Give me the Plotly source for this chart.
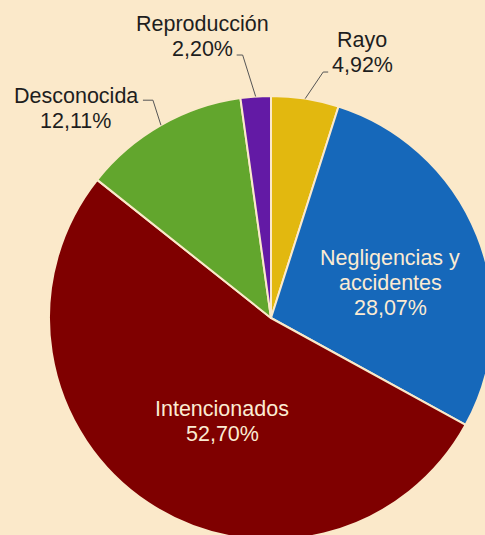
import math
import plotly.graph_objects as go

# ---- data ----
categories = ["Rayo", "Negligencias y accidentes", "Intencionados", "Desconocida", "Reproducción"]
label_lines = [["Rayo"], ["Negligencias y", "accidentes"], ["Intencionados"], ["Desconocida"], ["Reproducción"]]
values = [4.92, 28.07, 52.70, 12.11, 2.20]
pct_text = ["4,92%", "28,07%", "52,70%", "12,11%", "2,20%"]

# ---- style / layout constants ----
colors = ["#E2B80F", "#1668BA", "#7F0000", "#62A62D", "#631AA5"]
BG = "#FBE9CA"
W, H = 500, 545          # figure larger than the viewport so the pie is cropped
CX, CY, R = 271, 318, 222
FONT = "Liberation Sans, Arial, sans-serif"
FS = 21.5
LS = 25  # line spacing in px

# label placement (pixels)
inside = {1: (119, -35), 2: (-49, 103)}          # block centre relative to pie centre
outside = {  # elbow offset, horizontal tail length, text-centre offset (relative to edge point)
    0: ((18, -26.6), 5, (57, -46)),
    3: ((-8, -25), -10, (-85, -17)),
    4: ((-13, -41.5), -6, (-53, -60)),
}

def px(x):
    return x / W

def py(y):
    return 1 - y / H

fig = go.Figure(go.Pie(
    labels=categories,
    values=values,
    sort=False,
    direction="clockwise",
    rotation=0,
    textinfo="none",
    hoverinfo="label+percent",
    marker=dict(colors=colors, line=dict(color=BG, width=2)),
    domain=dict(x=[(CX - R) / W, (CX + R) / W], y=[(H - (CY + R)) / H, (H - (CY - R)) / H]),
    showlegend=False,
))

def add_block(ann, x, y, lines, color):
    n = len(lines)
    for k, line in enumerate(lines):
        yy = y + (k - (n - 1) / 2) * LS
        ann.append(dict(x=px(x), y=py(yy), xref="paper", yref="paper",
                        text=line, showarrow=False, xanchor="center", yanchor="middle",
                        font=dict(family=FONT, size=FS, color=color)))

total = sum(values)
cum = 0
annotations = []
shapes = []
for i, v in enumerate(values):
    mid = (cum + v / 2) / total * 2 * math.pi
    cum += v
    ex, ey = CX + R * math.sin(mid), CY - R * math.cos(mid)
    lines = label_lines[i] + [pct_text[i]]
    if i in inside:
        dx, dy = inside[i]
        add_block(annotations, CX + dx, CY + dy, lines, "#FBEBD3")
    else:
        (ox, oy), hl, (tx, ty) = outside[i]
        bx, by = ex + ox, ey + oy
        path = f"M {px(ex)},{py(ey)} L {px(bx)},{py(by)} L {px(bx + hl)},{py(by)}"
        shapes.append(dict(type="path", path=path, xref="paper", yref="paper",
                           line=dict(color="#555555", width=1)))
        add_block(annotations, ex + tx, ey + ty, lines, "#1E1E1E")

fig.update_layout(
    width=W, height=H,
    margin=dict(l=0, r=0, t=0, b=0),
    paper_bgcolor=BG, plot_bgcolor=BG,
    annotations=annotations, shapes=shapes,
)

fig.write_html(
    "out.html",
    config={"displayModeBar": False},
    post_script=(
        "document.body.style.margin='0';"
        "document.body.style.overflow='hidden';"
        "document.documentElement.style.overflow='hidden';"
        f"document.body.style.background='{BG}';"
    ),
)
